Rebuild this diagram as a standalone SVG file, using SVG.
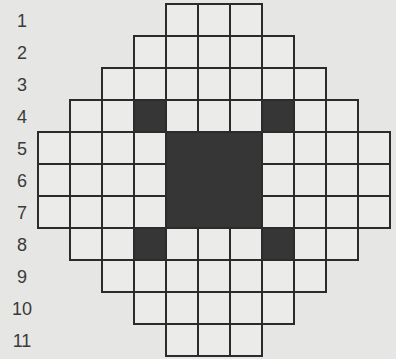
<svg xmlns="http://www.w3.org/2000/svg" width="396" height="359" viewBox="0 0 396 359">
<style>
.c{fill:#ebebe9;stroke:#2b2b2b;stroke-width:2}
.d{fill:#363636;stroke:#2b2b2b;stroke-width:2}
.t{font-family:"Liberation Sans",Arial,sans-serif;font-size:18px;fill:#3a3a3a;text-anchor:middle}
</style>
<defs>
<rect id="cell" width="32" height="32" class="c"/>
</defs>
<rect width="396" height="359" fill="#e6e6e4"/>
<g id="labels">
<text class="t" x="22" y="27">1</text>
<text class="t" x="22" y="59">2</text>
<text class="t" x="22" y="91">3</text>
<text class="t" x="22" y="123">4</text>
<text class="t" x="22" y="155">5</text>
<text class="t" x="22" y="187">6</text>
<text class="t" x="22" y="219">7</text>
<text class="t" x="22" y="251">8</text>
<text class="t" x="22" y="283">9</text>
<text class="t" x="22" y="315">10</text>
<text class="t" x="22" y="347">11</text>
</g>
<g id="row1"><rect class="c" x="166" y="4" width="32" height="32"/><rect class="c" x="198" y="4" width="32" height="32"/><rect class="c" x="230" y="4" width="32" height="32"/></g>
<g id="row2"><rect class="c" x="134" y="36" width="32" height="32"/><rect class="c" x="166" y="36" width="32" height="32"/><rect class="c" x="198" y="36" width="32" height="32"/><rect class="c" x="230" y="36" width="32" height="32"/><rect class="c" x="262" y="36" width="32" height="32"/></g>
<g id="row3"><rect class="c" x="102" y="68" width="32" height="32"/><rect class="c" x="134" y="68" width="32" height="32"/><rect class="c" x="166" y="68" width="32" height="32"/><rect class="c" x="198" y="68" width="32" height="32"/><rect class="c" x="230" y="68" width="32" height="32"/><rect class="c" x="262" y="68" width="32" height="32"/><rect class="c" x="294" y="68" width="32" height="32"/></g>
<g id="row4"><rect class="c" x="70" y="100" width="32" height="32"/><rect class="c" x="102" y="100" width="32" height="32"/><rect class="d" x="134" y="100" width="32" height="32"/><rect class="c" x="166" y="100" width="32" height="32"/><rect class="c" x="198" y="100" width="32" height="32"/><rect class="c" x="230" y="100" width="32" height="32"/><rect class="d" x="262" y="100" width="32" height="32"/><rect class="c" x="294" y="100" width="32" height="32"/><rect class="c" x="326" y="100" width="32" height="32"/></g>
<g id="row5"><rect class="c" x="38" y="132" width="32" height="32"/><rect class="c" x="70" y="132" width="32" height="32"/><rect class="c" x="102" y="132" width="32" height="32"/><rect class="c" x="134" y="132" width="32" height="32"/><rect class="c" x="262" y="132" width="32" height="32"/><rect class="c" x="294" y="132" width="32" height="32"/><rect class="c" x="326" y="132" width="32" height="32"/><rect class="c" x="358" y="132" width="32" height="32"/></g>
<g id="row6"><rect class="c" x="38" y="164" width="32" height="32"/><rect class="c" x="70" y="164" width="32" height="32"/><rect class="c" x="102" y="164" width="32" height="32"/><rect class="c" x="134" y="164" width="32" height="32"/><rect class="c" x="262" y="164" width="32" height="32"/><rect class="c" x="294" y="164" width="32" height="32"/><rect class="c" x="326" y="164" width="32" height="32"/><rect class="c" x="358" y="164" width="32" height="32"/></g>
<g id="row7"><rect class="c" x="38" y="196" width="32" height="32"/><rect class="c" x="70" y="196" width="32" height="32"/><rect class="c" x="102" y="196" width="32" height="32"/><rect class="c" x="134" y="196" width="32" height="32"/><rect class="c" x="262" y="196" width="32" height="32"/><rect class="c" x="294" y="196" width="32" height="32"/><rect class="c" x="326" y="196" width="32" height="32"/><rect class="c" x="358" y="196" width="32" height="32"/></g>
<g id="center"><rect class="d" x="166" y="132" width="96" height="96"/></g>
<g id="row8"><rect class="c" x="70" y="228" width="32" height="32"/><rect class="c" x="102" y="228" width="32" height="32"/><rect class="d" x="134" y="228" width="32" height="32"/><rect class="c" x="166" y="228" width="32" height="32"/><rect class="c" x="198" y="228" width="32" height="32"/><rect class="c" x="230" y="228" width="32" height="32"/><rect class="d" x="262" y="228" width="32" height="32"/><rect class="c" x="294" y="228" width="32" height="32"/><rect class="c" x="326" y="228" width="32" height="32"/></g>
<g id="row9"><rect class="c" x="102" y="260" width="32" height="32"/><rect class="c" x="134" y="260" width="32" height="32"/><rect class="c" x="166" y="260" width="32" height="32"/><rect class="c" x="198" y="260" width="32" height="32"/><rect class="c" x="230" y="260" width="32" height="32"/><rect class="c" x="262" y="260" width="32" height="32"/><rect class="c" x="294" y="260" width="32" height="32"/></g>
<g id="row10"><rect class="c" x="134" y="292" width="32" height="32"/><rect class="c" x="166" y="292" width="32" height="32"/><rect class="c" x="198" y="292" width="32" height="32"/><rect class="c" x="230" y="292" width="32" height="32"/><rect class="c" x="262" y="292" width="32" height="32"/></g>
<g id="row11"><rect class="c" x="166" y="324" width="32" height="32"/><rect class="c" x="198" y="324" width="32" height="32"/><rect class="c" x="230" y="324" width="32" height="32"/></g>
<g id="connectors"/>
</svg>
